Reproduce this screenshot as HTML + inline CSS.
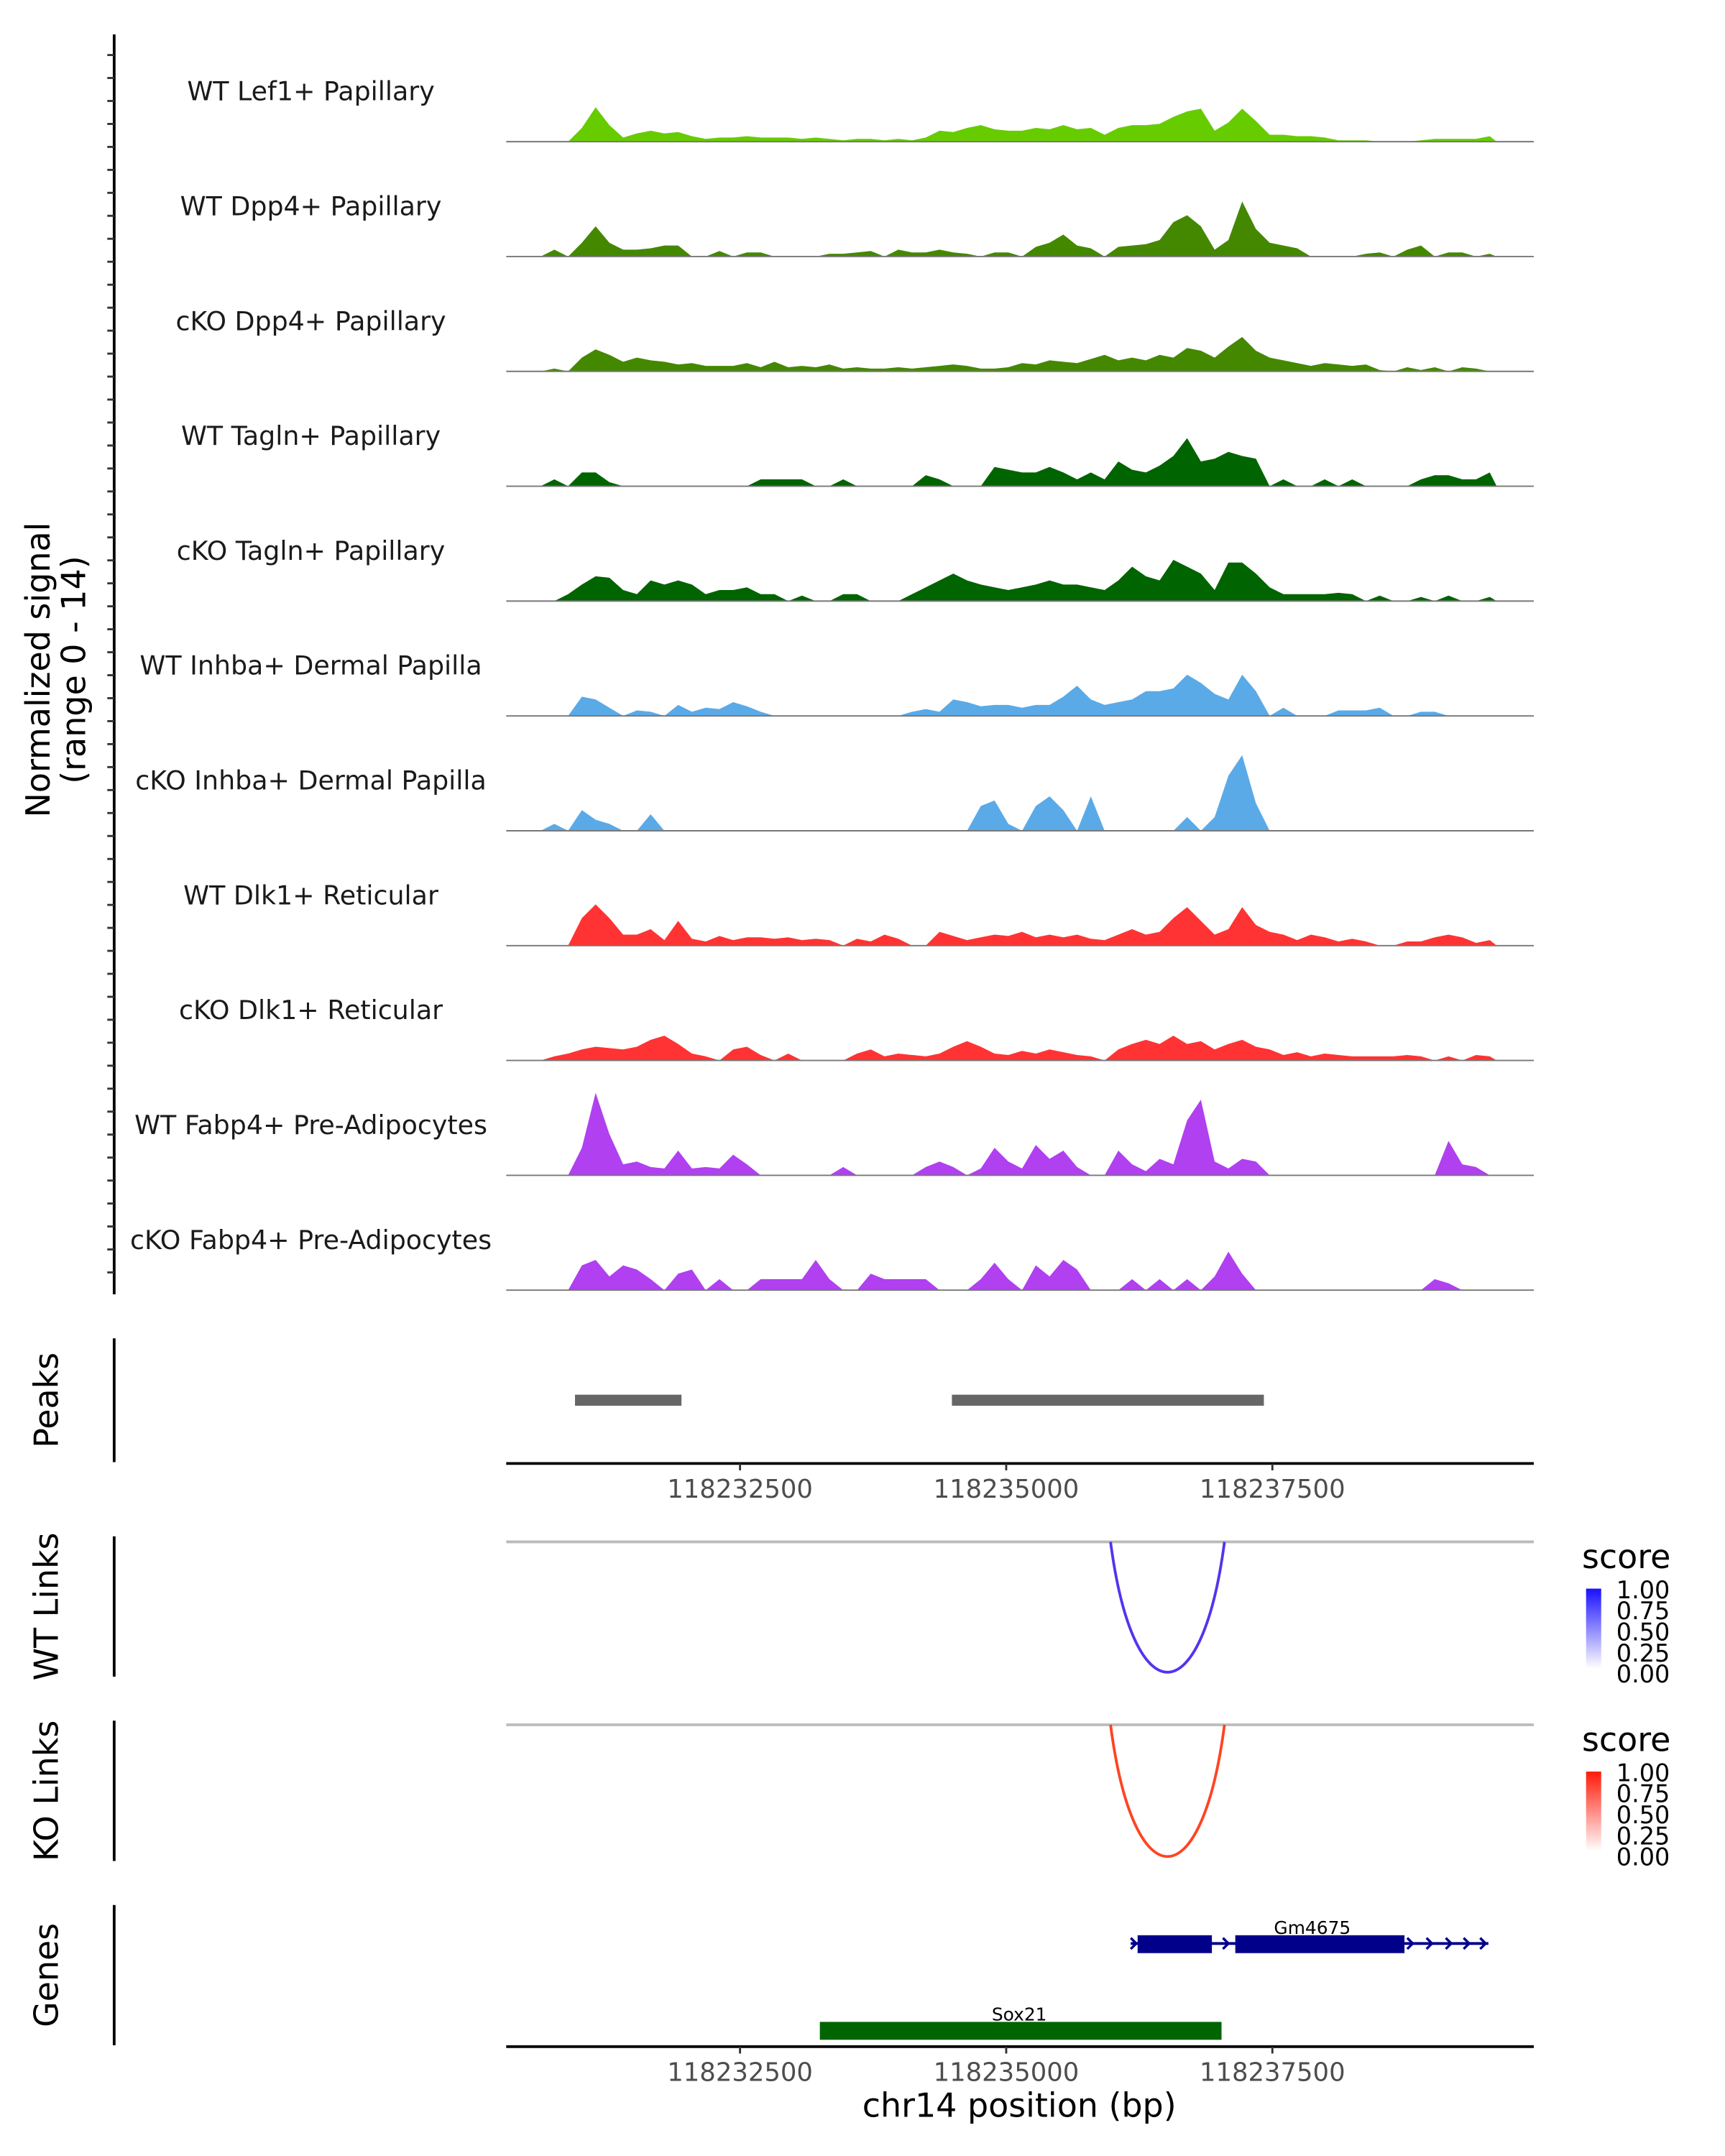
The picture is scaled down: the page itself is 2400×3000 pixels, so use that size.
<!DOCTYPE html>
<html><head><meta charset="utf-8"><style>
html,body{margin:0;padding:0;background:#fff}
svg{display:block;font-family:"DejaVu Sans","Liberation Sans",sans-serif}
</style></head><body>
<svg id="chart" width="2400" height="3000" viewBox="0 0 1254 1567.5" xmlns="http://www.w3.org/2000/svg">
<defs>
<linearGradient id="gBlue" x1="0" y1="1" x2="0" y2="0"><stop offset="0" stop-color="#ffffff"/><stop offset="1" stop-color="#1a10ff"/></linearGradient>
<linearGradient id="gRed" x1="0" y1="1" x2="0" y2="0"><stop offset="0" stop-color="#ffffff"/><stop offset="1" stop-color="#ff1a0a"/></linearGradient>
</defs>
<g id="tracks"></g>
<g id="static"></g>
</svg>
<script>
const trackNames = ["WT Lef1+ Papillary","WT Dpp4+ Papillary","cKO Dpp4+ Papillary","WT Tagln+ Papillary","cKO Tagln+ Papillary","WT Inhba+ Dermal Papilla","cKO Inhba+ Dermal Papilla","WT Dlk1+ Reticular","cKO Dlk1+ Reticular","WT Fabp4+ Pre-Adipocytes","cKO Fabp4+ Pre-Adipocytes"];
const trackColors = ["#66cc00","#448800","#448800","#006400","#006400","#5aaae8","#5aaae8","#ff3333","#ff3333","#b040f0","#b040f0"];
const sigLef1WT = [0,0,0,0,0,10,25,12,3,6,8,6,7,4,2,3,3,4,3,3,3,2,3,2,1,2,2,1,2,1,3,8,7,10,12,9,8,8,10,9,12,9,10,5,10,12,12,13,18,22,24,8,14,24,15,5,5,4,4,3,1,1,1,0,0,0,1,2,2,2,2,4];
const sigDpp4WT = [0,0,0,5,0,10,22,10,5,5,6,8,8,0,0,4,0,3,3,0,0,0,0,2,2,3,4,0,5,3,3,5,3,2,0,3,3,0,7,10,16,8,6,0,7,8,9,12,25,30,22,5,12,40,20,10,8,6,0,0,0,0,2,3,0,5,8,0,3,3,0,2];
const sigDpp4KO = [0,0,0,2,0,10,16,12,7,10,8,7,5,6,4,4,4,6,3,7,3,4,3,5,2,3,2,2,3,2,3,4,5,4,2,2,3,6,5,8,7,6,9,12,8,10,8,12,10,17,15,10,18,25,15,10,8,6,4,6,5,4,5,1,0,3,1,3,0,3,2,0];
const sigTaglnWT = [0,0,0,5,0,10,10,3,0,0,0,0,0,0,0,0,0,0,5,5,5,5,0,0,5,0,0,0,0,0,8,5,0,0,0,14,12,10,10,14,10,5,10,5,18,12,10,15,22,35,18,20,25,22,20,0,5,0,0,5,0,5,0,0,0,0,5,8,8,5,5,10];
const sigTaglnKO = [0,0,0,0,5,12,18,17,8,5,15,12,15,12,5,8,8,10,5,5,0,4,0,0,5,5,0,0,0,5,10,15,20,15,12,10,8,10,12,15,12,12,10,8,15,25,18,15,30,25,20,8,28,28,20,10,5,5,5,5,6,5,0,4,0,0,3,0,4,0,0,3];
const sigInhbaWT = [0,0,0,0,0,14,12,6,0,4,3,0,8,3,6,5,10,7,3,0,0,0,0,0,0,0,0,0,0,3,5,3,12,10,7,8,8,6,8,8,14,22,12,8,10,12,18,18,20,30,24,16,12,30,18,0,6,0,0,0,4,4,4,6,0,0,3,3,0,0,0,0];
const sigInhbaKO = [0,0,0,5,0,15,8,5,0,0,12,0,0,0,0,0,0,0,0,0,0,0,0,0,0,0,0,0,0,0,0,0,0,0,18,22,5,0,18,25,15,0,25,0,0,0,0,0,0,10,0,10,40,55,20,0,0,0,0,0,0,0,0,0,0,0,0,0,0,0,0,0];
const sigDlk1WT = [0,0,0,0,0,20,30,20,8,8,12,4,18,5,3,7,4,6,6,5,6,4,5,4,0,5,3,8,5,0,0,10,7,4,6,8,7,10,6,8,6,8,5,4,8,12,8,10,20,28,18,8,12,28,15,10,8,4,8,6,3,5,3,0,0,3,3,6,8,6,2,4];
const sigDlk1KO = [0,0,0,3,5,8,10,9,8,10,15,18,12,5,3,0,8,10,4,0,5,0,0,0,0,5,8,3,5,4,3,5,10,14,10,5,4,7,5,8,6,4,3,0,8,12,15,12,18,12,14,8,12,15,10,8,4,6,3,5,4,3,3,3,3,4,3,0,3,0,4,3];
const sigFabp4WT = [0,0,0,0,0,20,60,30,8,10,6,5,18,5,6,5,15,8,0,0,0,0,0,0,6,0,0,0,0,0,6,10,6,0,5,20,10,5,22,12,18,6,0,0,18,8,3,12,8,40,55,10,5,12,10,0,0,0,0,0,0,0,0,0,0,0,0,0,25,8,6,0];
const sigFabp4KO = [0,0,0,0,0,18,22,10,18,15,8,0,12,15,0,8,0,0,8,8,8,8,22,8,0,0,12,8,8,8,8,0,0,0,8,20,8,0,18,10,22,15,0,0,0,8,0,8,0,8,0,10,28,12,0,0,0,0,0,0,0,0,0,0,0,0,0,8,5,0,0,0];
const signals = [sigLef1WT,sigDpp4WT,sigDpp4KO,sigTaglnWT,sigTaglnKO,sigInhbaWT,sigInhbaKO,sigDlk1WT,sigDlk1KO,sigFabp4WT,sigFabp4KO];
const regionStart = 118230304;
const binSize = 129.2;
const xTicks = [118232500,118235000,118237500];
const peakStarts = [118230950,118234490];
const peakEnds = [118231950,118237420];
const wtLinkStart = [118235980];
const wtLinkEnd = [118237050];
const koLinkStart = [118235980];
const koLinkEnd = [118237050];
const legendTicks = ["1.00","0.75","0.50","0.25","0.00"];

const NS="http://www.w3.org/2000/svg";
const pxPerBp = 387/5000;
function xs(g){return 368+(g-regionStart)*pxPerBp;}
const sigMax = 80;
const trackH = 80;
function ys(v,base){return base - v/sigMax*trackH;}
function mk(tag,attrs,parent){const e=document.createElementNS(NS,tag);for(const k in attrs)e.setAttribute(k,attrs[k]);parent.appendChild(e);return e;}
const tg=document.getElementById('tracks');
const st=document.getElementById('static');
const base0=103, step=83.5;
signals.forEach((arr,t)=>{
  const base=base0+t*step;
  let d=`M${xs(regionStart).toFixed(1)},${base}`;
  arr.forEach((v,i)=>{const x=xs(regionStart+(i+0.5)*binSize);d+=` L${x.toFixed(1)},${ys(v,base).toFixed(1)}`;});
  d+=` L${xs(regionStart+arr.length*binSize).toFixed(1)},${base} Z`;
  const p=mk('path',{d:d,fill:trackColors[t]},tg);
  
  
  const bl=mk('line',{x1:368,x2:1115,y1:base,y2:base,stroke:'#777','stroke-width':1},tg);
  
  
  const lb=mk('text',{x:226,y:base-30,'text-anchor':'middle','font-size':19,fill:'#1a1a1a'},tg);
  lb.textContent=trackNames[t];
  
  
});
let ax=mk('line',{x1:83,x2:83,y1:25,y2:941,stroke:'#000','stroke-width':2},st);


for(let y=25+step/5*0.9;y<=941;y+=step/5){const tk=mk('line',{x1:78,x2:83,y1:y.toFixed(1),y2:y.toFixed(1),stroke:'#333','stroke-width':1.5},st);

}
let yl=mk('text',{transform:'translate(42,487) rotate(-90)','text-anchor':'middle','font-size':24,fill:'#000'},st);


const t1=mk('tspan',{x:0,dy:-6},yl);t1.textContent='Normalized signal';
const t2=mk('tspan',{x:0,dy:26},yl);t2.textContent='(range 0 - 14)';
function sideLabel(txt,y1,y2,name){
  const a=mk('line',{x1:83,x2:83,y1:y1,y2:y2,stroke:'#000','stroke-width':2},st);
  
  
  const t=mk('text',{transform:`translate(42,${(y1+y2)/2}) rotate(-90)`,'text-anchor':'middle','font-size':24,fill:'#000'},st);
  t.textContent=txt;
  
  
}
sideLabel('Peaks',973,1063,'peaks');
sideLabel('WT Links',1117,1219,'wt-links');
sideLabel('KO Links',1251,1353,'ko-links');
sideLabel('Genes',1385,1487,'genes');
peakStarts.forEach((s,i)=>{const r=mk('rect',{x:xs(s),y:1014,width:xs(peakEnds[i])-xs(s),height:8,fill:'#666'},st);

});
function xAxis(y,name){
  const l=mk('line',{x1:368,x2:1115,y1:y,y2:y,stroke:'#000','stroke-width':2},st);
  
  
  xTicks.forEach(g=>{mk('line',{x1:xs(g),x2:xs(g),y1:y,y2:y+5,stroke:'#333','stroke-width':1.5},st);
    const t=mk('text',{x:xs(g),y:y+25,'text-anchor':'middle','font-size':18.5,fill:'#4d4d4d'},st);t.textContent=String(g);
    
    });
}
xAxis(1064,'peaks-x-axis');
xAxis(1488,'genes-x-axis');
let xt=mk('text',{x:741,y:1539,'text-anchor':'middle','font-size':24,fill:'#000'},st);xt.textContent='chr14 position (bp)';


function links(y0,depth,starts,ends,color,grad,name){
  const gl=mk('line',{x1:368,x2:1115,y1:y0,y2:y0,stroke:'#bbb','stroke-width':2},st);
  
  
  starts.forEach((s,i)=>{const a=xs(s),b=xs(ends[i]);
    const p=mk('path',{d:`M${a},${y0} C${a+(b-a)*0.2},${y0+depth*1.33} ${b-(b-a)*0.2},${y0+depth*1.33} ${b},${y0}`,fill:'none',stroke:color,'stroke-width':2},st);
    
    });
  const ly=y0+19;
  const tt=mk('text',{x:1150,y:ly,'font-size':24,fill:'#000'},st);tt.textContent='score';
  
  
  const r=mk('rect',{x:1153,y:ly+15,width:11,height:58,fill:`url(#${grad})`},st);
  
  
  legendTicks.forEach((lt,i)=>{const t=mk('text',{x:1175,y:ly+22+i*15.3,'font-size':17.5,fill:'#000'},st);t.textContent=lt;
    
    });
}
links(1121,95,wtLinkStart,wtLinkEnd,'#5533ee','gBlue','wt-links');
links(1254,96,koLinkStart,koLinkEnd,'#ff4422','gRed','ko-links');
const gg=mk('g',{},st);


mk('line',{x1:822,x2:1082,y1:1413,y2:1413,stroke:'#00008b','stroke-width':2},gg);
mk('rect',{x:827,y:1407,width:54,height:13,fill:'#00008b'},gg);
mk('rect',{x:898,y:1407,width:123,height:13,fill:'#00008b'},gg);
[826,893,1027,1041,1055,1068,1080].forEach(x=>mk('path',{d:`M${x-4},${1409} L${x},${1413} L${x-4},${1417}`,fill:'none',stroke:'#00008b','stroke-width':1.8},gg));
let gt=mk('text',{x:954,y:1406,'text-anchor':'middle','font-size':13,fill:'#000'},gg);gt.textContent='Gm4675';
const gs=mk('g',{},st);


mk('rect',{x:596,y:1470,width:292,height:13,fill:'#006400'},gs);
let st2=mk('text',{x:741,y:1469,'text-anchor':'middle','font-size':13,fill:'#000'},gs);st2.textContent='Sox21';
</script>
</body></html>
